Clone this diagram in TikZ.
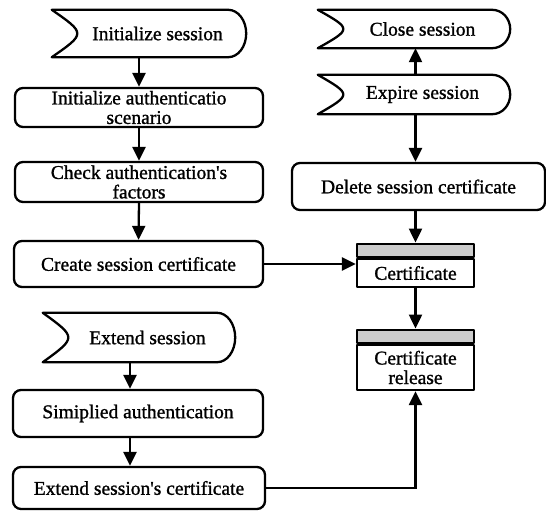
\documentclass[tikz,border=0pt]{standalone}
\usepackage{fontspec}
\setmainfont{Liberation Serif}[Ligatures=TeXOff, FakeBold=1.2]
\usetikzlibrary{calc,arrows.meta}
\newcommand\evtoutline[1]{%
  \draw[ln] ($(#1.north west)+(-17,0)$) .. controls ($(#1.west)+(17,0)$) .. ($(#1.south west)+(-17,0)$)
    -- ($(#1.south east)+(-18,0)$)
    .. controls ($(#1.south east)+(-8,0)$) and ($(#1.east)!0.55!(#1.south east)$) .. (#1.east)
    .. controls ($(#1.east)!0.55!(#1.north east)$) and ($(#1.north east)+(-8,0)$) .. ($(#1.north east)+(-18,0)$)
    -- cycle;}
\begin{document}
\begin{tikzpicture}[x=1pt,y=-1pt,
  font=\fontsize{19.5}{19.5}\selectfont,
  ln/.style={line width=2.3pt, line join=round},
  box/.style={ln, draw, rounded corners=8pt, inner sep=0pt, align=center},
  evt/.style={inner sep=0pt, align=center},
  store/.style={ln, draw, fill=white, inner sep=0pt, align=center, minimum width=117pt},
  hdr/.style={ln, draw, fill=gray!40, minimum width=117pt, minimum height=13pt, inner sep=0pt, anchor=south},
  arr/.style={line width=2.3pt, -{Triangle[width=13pt,length=14pt]}}]
\useasboundingbox (0,0) rectangle (546,511);
% left column
\node[evt, minimum width=177pt, minimum height=47pt] (initS) at (157.5,33.5) {Initialize session};
\evtoutline{initS}
\node[box, minimum width=248pt, minimum height=39pt] (initA) at (139,107.5) {Initialize authenticatio\\scenario};
\node[box, minimum width=248pt, minimum height=40pt] (check) at (139,182) {Check authentication's\\factors};
\node[box, minimum width=249pt, minimum height=46pt] (create) at (138.5,264) {Create session certificate};
\node[evt, minimum width=175pt, minimum height=49pt] (extS) at (147.5,337.5) {Extend session};
\evtoutline{extS}
\node[box, minimum width=250pt, minimum height=47pt] (simp) at (138,413.5) {Simiplied authentication};
\node[box, minimum width=252pt, minimum height=42pt] (extC) at (139,488) {Extend session's certificate};
% right column
\node[evt, minimum width=175pt, minimum height=38pt] (closeS) at (422.5,29) {Close session};
\evtoutline{closeS}
\node[evt, minimum width=175pt, minimum height=39pt] (expS) at (422.5,94.5) {Expire session};
\evtoutline{expS}
\node[box, minimum width=253pt, minimum height=47pt] (del) at (418.5,186.5) {Delete session certificate};
\node[store, minimum height=28pt] (cert) at (415.5,273) {Certificate};
\node[hdr] (certH) at (cert.north) {};
\node[store, minimum height=45pt] (rel) at (415.5,367.5) {Certificate\\release};
\node[hdr] (relH) at (rel.north) {};
\coordinate (lx) at (130,400);
% connectors
\draw[arr] (initS.south -| initA.north) -- (initA.north);
\draw[arr] (initA.south) -- (check.north);
\draw[arr] (check.south) -- (create.north);
\draw[arr] (extS.south -| lx) -- (simp.north -| lx);
\draw[arr] (simp.south -| lx) -- (extC.north -| lx);
\draw[arr] (expS.north -| certH.north) -- (closeS.south -| certH.north);
\draw[arr] (expS.south -| certH.north) -- (del.north -| certH.north);
\draw[arr] (del.south -| certH.north) -- (certH.north);
\draw[arr] (cert.south) -- (relH.north);
\draw[arr] (create.east) -- (create.east -| cert.west);
\draw[arr] (extC.east) -| (rel.south);
\end{tikzpicture}
\end{document}
